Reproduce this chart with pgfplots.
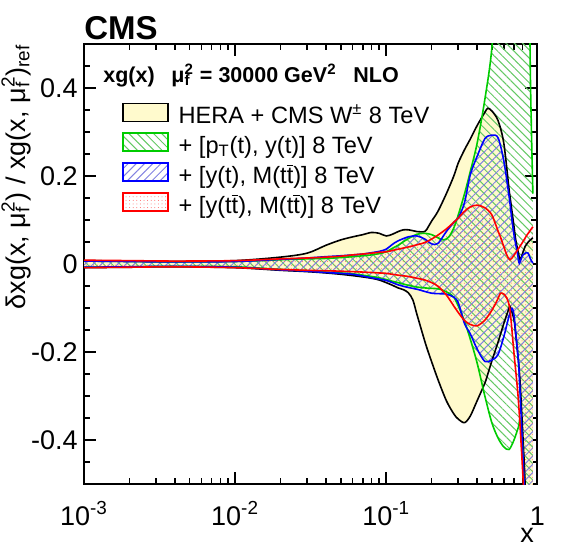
\documentclass[border=0pt]{standalone}
\usepackage{fontspec}
\setmainfont{Liberation Sans}
\usepackage{pgfplots}
\pgfplotsset{compat=1.18}
\usepackage{pgfplotstable}
\usepgfplotslibrary{fillbetween}
\usetikzlibrary{patterns.meta}

\definecolor{herafill}{RGB}{255,250,205}
\definecolor{lgreen}{RGB}{0,204,0}
\definecolor{hgreen}{RGB}{100,200,100}
\definecolor{hblue}{RGB}{130,130,225}
\definecolor{dred}{RGB}{255,100,100}

\newcommand\mufsq{μ\rlap{\textsubscript{f}}\textsuperscript{2}}
\newcommand\tbar{\ensuremath{\overline{\mbox{t}}}}

% relative uncertainty bands of xg(x): x, upper edge, lower edge
\pgfplotstableread{
x up lo
0.001 0.008 -0.008
0.002 0.007 -0.007
0.004 0.006 -0.006
0.01 0.008 -0.008
0.02 0.016 -0.014
0.03 0.025 -0.017
0.04 0.043 -0.020
0.05 0.055 -0.023
0.06 0.062 -0.026
0.07 0.067 -0.029
0.08 0.072 -0.032
0.09 0.070 -0.036
0.10 0.064 -0.042
0.11 0.068 -0.048
0.12 0.074 -0.054
0.13 0.078 -0.058
0.14 0.078 -0.065
0.15 0.076 -0.081
0.16 0.074 -0.115
0.18 0.074 -0.175
0.19 0.085 -0.200
0.20 0.098 -0.222
0.22 0.120 -0.262
0.25 0.160 -0.310
0.28 0.200 -0.340
0.30 0.230 -0.352
0.33 0.260 -0.360
0.36 0.284 -0.345
0.40 0.315 -0.310
0.45 0.345 -0.270
0.47 0.354 -0.250
0.50 0.348 -0.220
0.55 0.326 -0.177
0.60 0.275 -0.135
0.65 0.170 -0.100
0.66 0.153 -0.096
0.70 0.087 -0.125
0.72 0.055 -0.160
0.75 0.025 -0.220
0.77 0.010 -0.270
0.80 0.025 -0.380
0.83 0.040 -0.500
0.86 0.048 -0.700
0.90 0.055 -1.000
0.935 0.060 -1.300
}\hera

\pgfplotstableread{
x up lo
0.001 0.007 -0.007
0.002 0.006 -0.006
0.004 0.005 -0.005
0.01 0.006 -0.006
0.02 0.010 -0.012
0.03 0.012 -0.015
0.04 0.013 -0.018
0.05 0.015 -0.020
0.06 0.017 -0.022
0.07 0.019 -0.025
0.08 0.021 -0.028
0.09 0.024 -0.031
0.10 0.028 -0.035
0.11 0.036 -0.039
0.12 0.043 -0.042
0.14 0.058 -0.048
0.16 0.068 -0.052
0.18 0.070 -0.054
0.20 0.067 -0.055
0.22 0.060 -0.056
0.24 0.055 -0.060
0.26 0.062 -0.066
0.28 0.082 -0.075
0.30 0.112 -0.095
0.33 0.160 -0.130
0.36 0.210 -0.170
0.40 0.275 -0.225
0.45 0.375 -0.300
0.50 0.490 -0.360
0.55 0.700 -0.395
0.60 0.900 -0.415
0.65 1.000 -0.421
0.70 1.000 -0.400
0.75 1.000 -0.370
0.77 1.000 -0.355
0.80 1.000 -0.420
0.83 1.000 -0.600
0.86 1.000 -0.850
0.88 1.000 -1.000
0.895 0.500 -1.100
0.915 0.300 -1.250
0.935 0.160 -1.400
}\ptyt

\pgfplotstableread{
x up lo
0.001 0.007 -0.007
0.002 0.006 -0.006
0.004 0.005 -0.005
0.01 0.006 -0.007
0.02 0.011 -0.013
0.03 0.014 -0.016
0.04 0.017 -0.019
0.05 0.019 -0.021
0.06 0.021 -0.023
0.07 0.023 -0.027
0.08 0.026 -0.031
0.09 0.029 -0.034
0.10 0.034 -0.037
0.11 0.045 -0.042
0.12 0.053 -0.047
0.14 0.062 -0.053
0.16 0.064 -0.057
0.18 0.057 -0.062
0.20 0.046 -0.066
0.22 0.047 -0.067
0.25 0.074 -0.068
0.28 0.095 -0.075
0.30 0.105 -0.088
0.33 0.140 -0.135
0.36 0.203 -0.158
0.40 0.245 -0.193
0.45 0.285 -0.221
0.50 0.293 -0.218
0.55 0.287 -0.205
0.60 0.235 -0.165
0.65 0.155 -0.118
0.68 0.100 -0.100
0.70 0.068 -0.115
0.72 0.045 -0.155
0.75 0.012 -0.220
0.76 0.002 -0.255
0.80 0.020 -0.420
0.83 0.025 -0.550
0.87 0.025 -0.750
0.90 0.012 -1.000
0.935 0.002 -1.300
}\ytmtt

\pgfplotstableread{
x up lo
0.001 0.009 -0.008
0.002 0.008 -0.007
0.004 0.007 -0.006
0.01 0.008 -0.008
0.02 0.012 -0.012
0.03 0.014 -0.014
0.04 0.016 -0.015
0.05 0.018 -0.016
0.06 0.021 -0.017
0.07 0.023 -0.018
0.08 0.025 -0.019
0.09 0.027 -0.020
0.10 0.028 -0.021
0.12 0.034 -0.025
0.14 0.039 -0.028
0.16 0.044 -0.032
0.18 0.049 -0.036
0.20 0.057 -0.042
0.22 0.066 -0.050
0.25 0.080 -0.070
0.28 0.095 -0.095
0.30 0.105 -0.110
0.33 0.120 -0.128
0.36 0.130 -0.137
0.40 0.134 -0.140
0.45 0.128 -0.127
0.50 0.112 -0.105
0.55 0.075 -0.078
0.57 0.062 -0.066
0.60 0.040 -0.068
0.63 0.020 -0.078
0.66 0.010 -0.105
0.70 0.020 -0.200
0.75 0.035 -0.310
0.80 0.050 -0.470
0.82 0.056 -0.550
0.85 0.065 -0.750
0.90 0.077 -1.100
0.935 0.085 -1.400
}\yttmtt

\begin{document}
\begin{tikzpicture}
\begin{axis}[
  name=ax,
  xmode=log, xmin=1e-3, xmax=1, ymin=-0.5, ymax=0.5,
  scale only axis, width=226.65pt, height=220.15pt,
  axis line style={line width=1pt},
  every tick/.style={black, line width=0.8pt},
  tick align=inside,
  major tick length=6pt, minor tick length=3pt,
  xtick={0.001,0.01,0.1,1},
  xticklabels={10\textsuperscript{-3},10\textsuperscript{-2},10\textsuperscript{-1},1},
  minor xtick={0.002,0.003,0.004,0.005,0.006,0.007,0.008,0.009,
               0.02,0.03,0.04,0.05,0.06,0.07,0.08,0.09,
               0.2,0.3,0.4,0.5,0.6,0.7,0.8,0.9},
  ytick={-0.4,-0.2,0,0.2,0.4},
  yticklabels={-0.4,-0.2,0,0.2,0.4},
  minor ytick={-0.45,-0.35,-0.3,-0.25,-0.15,-0.1,-0.05,0.05,0.1,0.15,0.25,0.3,0.35,0.45},
  ticklabel style={font=\fontsize{13.5}{16}\selectfont},
  xticklabel style={anchor=base, yshift=-20.35pt},
  yticklabel style={anchor=east, inner sep=0pt, xshift=-3pt},
  xlabel={x},
  xlabel style={at={(axis description cs:1,0)}, anchor=base east, yshift=-29pt, xshift=-1.5pt,
                inner sep=0pt, font=\fontsize{13.5}{16}\selectfont},
  ylabel={δxg(x, \mufsq) / xg(x, \mufsq)\textsubscript{ref}},
  ylabel style={at={(axis description cs:-0.130,1)}, anchor=base east,
                inner sep=0pt, font=\fontsize{13.5}{16}\selectfont},
  legend image code/.code={\draw[#1] (0pt,-1.5pt) rectangle (22.5pt,7.5pt);},
  legend cell align=left,
  legend style={at={(rel axis cs:0.083,0.868)}, anchor=north west,
                draw=none, fill=none, inner sep=0pt, row sep=2.55pt, column sep=5pt,
                nodes={inner sep=0pt, text height=7pt, text depth=2pt,
                       font=\fontsize{11.8}{13}\selectfont}},
]
% edges of the bands
\addplot[name path=hup, black, line width=0.8pt, smooth, forget plot] table[x=x,y=up]{\hera};
\addplot[name path=hlo, black, line width=0.8pt, smooth, forget plot] table[x=x,y=lo]{\hera};
\addplot[name path=gup, lgreen, line width=0.8pt, smooth, forget plot] table[x=x,y=up]{\ptyt};
\addplot[name path=glo, lgreen, line width=0.8pt, smooth, forget plot] table[x=x,y=lo]{\ptyt};
\addplot[name path=bup, blue, line width=0.8pt, smooth, forget plot] table[x=x,y=up]{\ytmtt};
\addplot[name path=blo, blue, line width=0.8pt, smooth, forget plot] table[x=x,y=lo]{\ytmtt};
\addplot[name path=rup, red, line width=0.8pt, smooth, forget plot] table[x=x,y=up]{\yttmtt};
\addplot[name path=rlo, red, line width=0.8pt, smooth, forget plot] table[x=x,y=lo]{\yttmtt};
% band fills
\addplot[fill=herafill, draw=none, forget plot] fill between[of=hup and hlo];
\addplot[draw=none, pattern={Lines[angle=-45,distance=2.9pt,line width=0.5pt]},
         pattern color=hgreen, forget plot] fill between[of=gup and glo];
\addplot[draw=none, pattern={Lines[angle=45,distance=2.9pt,line width=0.5pt]},
         pattern color=hblue, forget plot] fill between[of=bup and blo];
\addplot[draw=none, pattern={Dots[distance=1.8pt,radius=0.25pt]},
         pattern color=dred, forget plot] fill between[of=rup and rlo];
% legend
\addlegendimage{fill=herafill, draw=black, line width=0.8pt}
\addlegendentry{HERA + CMS W\textsuperscript{±} 8 TeV}
\addlegendimage{draw=lgreen, line width=0.8pt, pattern={Lines[angle=-45,distance=2.9pt,line width=0.5pt]}, pattern color=hgreen}
\addlegendentry{+ [p\textsubscript{T}(t), y(t)] 8 TeV}
\addlegendimage{draw=blue, line width=0.8pt, pattern={Lines[angle=45,distance=2.9pt,line width=0.5pt]}, pattern color=hblue}
\addlegendentry{+ [y(t), M(t\tbar)] 8 TeV}
\addlegendimage{draw=red, line width=0.8pt, pattern={Dots[distance=1.8pt,radius=0.25pt]}, pattern color=dred}
\addlegendentry{+ [y(t\tbar), M(t\tbar)] 8 TeV}
\end{axis}
\node[anchor=base west, inner sep=0pt, font=\bfseries\fontsize{16.5}{18}\selectfont]
  at ([yshift=2.1pt]ax.north west) {CMS};
\node[anchor=base west, inner sep=0pt, font=\bfseries\fontsize{10.75}{13}\selectfont]
  at ([xshift=9.5pt,yshift=-19.2pt]ax.north west) {xg(x)\enspace\ \mufsq{} = 30000 GeV\textsuperscript{2}\enspace\ NLO};
\path ([shift={(-42pt,-30.85pt)}]ax.south west) rectangle ([shift={(14.85pt,22pt)}]ax.north east);
\end{tikzpicture}
\end{document}
